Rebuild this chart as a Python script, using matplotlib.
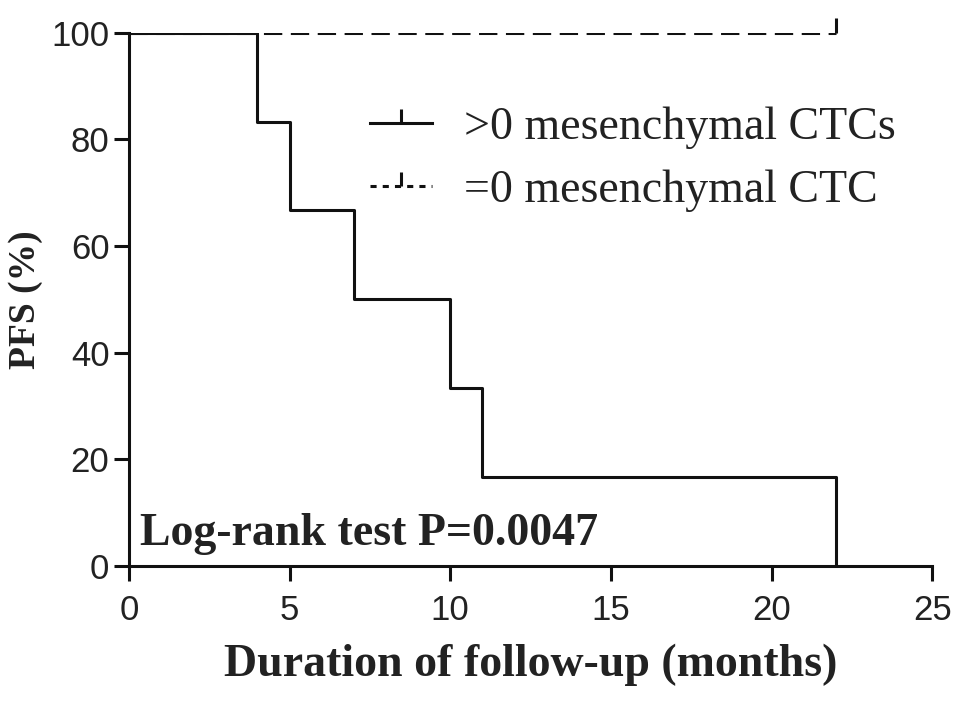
import matplotlib
matplotlib.use("Agg")
import matplotlib.pyplot as plt
from matplotlib.path import Path
from matplotlib.lines import Line2D

# Data
pos_times = [0, 4, 5, 7, 10, 11, 22]
pos_surv = [100, 83.3, 66.7, 50.0, 33.3, 16.7, 0]
neg_times = [0, 22]
neg_surv = [100, 100]
neg_censor_t = [22]
neg_censor_s = [100]
label_pos = ">0 mesenchymal CTCs"
label_neg = "=0 mesenchymal CTC"
xticks = [0, 5, 10, 15, 20, 25]
yticks = [0, 20, 40, 60, 80, 100]
ptext = "Log-rank test P=0.0047"

censor = Path([(0, 0), (0, 1)])
LW = 2.2

fig = plt.figure(figsize=(9.69, 7.09), dpi=100)
ax = fig.add_axes([0.133, 0.2017, 0.829, 0.752])

ax.step(neg_times, neg_surv, where="post", color="#111111", lw=LW, ls=(0, (6, 2.8)))
ax.plot(neg_censor_t, neg_censor_s, ls="none", marker=censor, ms=22, mew=LW,
        color="#111111", clip_on=False)
ax.step(pos_times, pos_surv, where="post", color="#111111", lw=LW)

ax.set_xlim(0, 25)
ax.set_ylim(0, 100)
ax.set_xticks(xticks)
ax.set_yticks(yticks)
for s in ["top", "right"]:
    ax.spines[s].set_visible(False)
for s in ["left", "bottom"]:
    ax.spines[s].set_linewidth(LW)
    ax.spines[s].set_color("#111111")
ax.tick_params(width=LW, length=11, direction="out", color="#111111")
ax.tick_params(axis="y", labelsize=25, pad=3)
ax.tick_params(axis="x", labelsize=25, pad=9)
for lab in ax.get_xticklabels() + ax.get_yticklabels():
    lab.set_fontfamily("Liberation Sans")
    lab.set_color("#222222")

ax.set_xlabel("Duration of follow-up (months)", fontfamily="Liberation Serif",
              fontweight="bold", fontsize=33, labelpad=12, color="#222222")
ax.set_ylabel("PFS (%)", fontfamily="Liberation Serif", fontweight="bold",
              fontsize=27, labelpad=6, color="#222222")

ax.text(0.34, 6.0, ptext, fontfamily="Liberation Serif", fontweight="bold",
        fontsize=33, va="center", color="#222222")

h1 = Line2D([], [], color="#111111", lw=LW, marker=censor, ms=20, mew=LW)
h2 = Line2D([], [], color="#111111", lw=LW, ls=(0, (2, 2)), marker=censor, ms=20, mew=LW)
leg = ax.legend([h1, h2], [label_pos, label_neg], loc="upper left",
                bbox_to_anchor=(0.272, 0.905), frameon=False, handlelength=1.35,
                prop={"family": "Liberation Serif", "size": 33}, labelspacing=0.45,
                handletextpad=0.7, borderpad=0)
for t in leg.get_texts():
    t.set_color("#222222")

fig.savefig("out.png", dpi=100)
